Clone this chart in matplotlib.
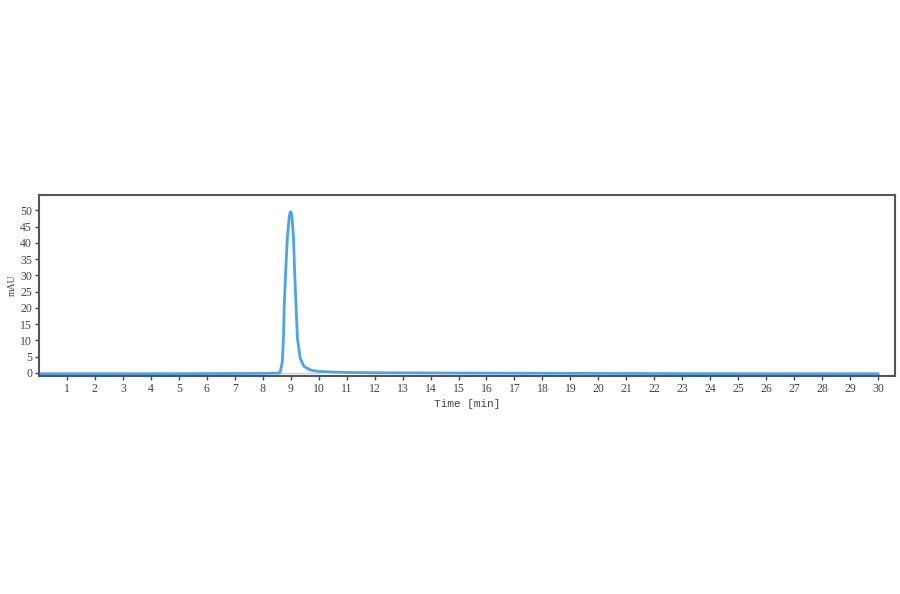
# Chromatogram - single peak around 9 min
import numpy as np
import matplotlib.pyplot as plt

# Trace points
time_min = [0, 4, 8.0, 8.5, 8.6, 8.64, 8.70, 8.74, 8.77, 8.82, 8.88, 8.95, 8.98, 9.0, 9.02,
            9.05, 9.10, 9.14, 9.19, 9.24, 9.34, 9.48, 9.72, 10.0, 10.5, 11, 12, 15, 20, 25, 30]
signal_mau = [-0.3, -0.3, -0.2, -0.1, -0.1, 0.8, 3.4, 10.6, 20.9, 31.2, 41.5, 48.3, 49.4, 49.6, 49.3,
              47.5, 41.5, 31.2, 20.9, 10.6, 4.4, 1.9, 0.8, 0.4, 0.2, 0.1, 0.0, -0.1, -0.2, -0.3, -0.3]

x_ticks = list(range(1, 31))
y_ticks = list(range(0, 55, 5))

plt.rcParams['font.family'] = ['Liberation Serif', 'DejaVu Serif']

fig = plt.figure(figsize=(9, 5.94), dpi=100)
ax = fig.add_axes([0.0433, 0.367, 0.951, 0.305])

ax.plot([8.6, 10.0], [0, 0], color='#b9d3ea', linewidth=1)
ax.plot(time_min, signal_mau, color='#4aa3f0', linewidth=2)

ax.set_xlim(0, 30.6)
ax.set_ylim(-1, 54.8)
ax.set_xticks(x_ticks)
ax.set_yticks(y_ticks)
ax.tick_params(axis='both', labelsize=8.5, colors='#444444', length=3, width=1, pad=2)
for s in ax.spines.values():
    s.set_color('#555555')
    s.set_linewidth(1.5)

ax.set_xlabel('Time [min]', fontsize=8, color='#444444', labelpad=3,
              family=['Liberation Mono', 'DejaVu Sans Mono'])
ax.set_ylabel('mAU', fontsize=7, color='#444444', labelpad=2)

fig.savefig('out.png', dpi=100)
